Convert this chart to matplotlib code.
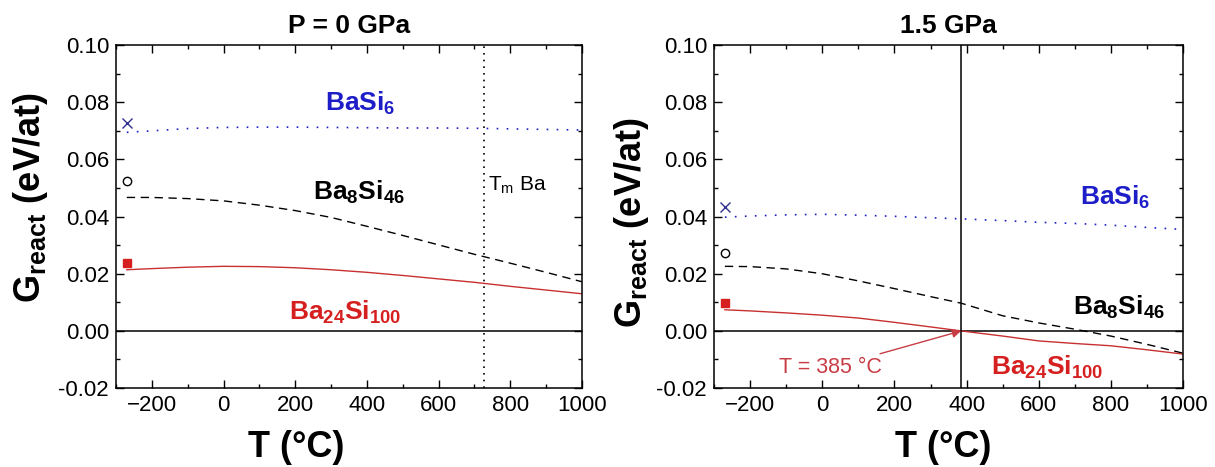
import numpy as np
import matplotlib.pyplot as plt
from matplotlib.ticker import MultipleLocator

plt.rcParams['font.family'] = ['Liberation Sans', 'DejaVu Sans']
plt.rcParams['mathtext.fontset'] = 'custom'
plt.rcParams['mathtext.rm'] = 'Liberation Sans'
plt.rcParams['mathtext.bf'] = 'Liberation Sans:bold'
plt.rcParams['mathtext.it'] = 'Liberation Sans:italic'

# P = 0 GPa
T0 = [-270, -200, -100, 0, 100, 200, 300, 400, 500, 600, 700, 800, 900, 1000]
basi6_0 = [0.0695, 0.0700, 0.0708, 0.0712, 0.0713, 0.0713, 0.0712, 0.0711, 0.0710, 0.0710, 0.0709, 0.0707, 0.0705, 0.0703]
ba8si46_0 = [0.0467, 0.0467, 0.0463, 0.0455, 0.0440, 0.0421, 0.0397, 0.0366, 0.0334, 0.0301, 0.0268, 0.0237, 0.0205, 0.0172]
ba24si100_0 = [0.0214, 0.0218, 0.0223, 0.0226, 0.0225, 0.0221, 0.0214, 0.0205, 0.0194, 0.0182, 0.0170, 0.0156, 0.0143, 0.0130]
pts0 = [0.0726, 0.0523, 0.0239]  # BaSi6, Ba8Si46, Ba24Si100 at -270 C
Tm_Ba = 727

# P = 1.5 GPa
T1 = [-270, -200, -100, 0, 100, 200, 300, 385, 500, 600, 700, 800, 900, 1000]
basi6_1 = [0.0398, 0.0402, 0.0406, 0.0408, 0.0405, 0.0401, 0.0396, 0.0392, 0.0386, 0.0380, 0.0376, 0.0370, 0.0362, 0.0355]
ba8si46_1 = [0.0226, 0.0225, 0.0217, 0.0200, 0.0175, 0.0148, 0.0120, 0.0097, 0.0053, 0.0028, 0.0006, -0.0018, -0.0047, -0.0078]
ba24si100_1 = [0.0074, 0.0070, 0.0063, 0.0055, 0.0045, 0.0030, 0.0014, 0.0000, -0.0018, -0.0035, -0.0044, -0.0052, -0.0066, -0.0081]
pts1 = [0.0432, 0.0271, 0.0096]
T_cross = 385

blue = '#1e1ec8'
red = '#d62020'
line_red = '#c83030'


def style(ax, title, xlab_x, ylab_x, ylab_y):
    ax.set_xlim(-300, 1000)
    ax.set_ylim(-0.02, 0.10)
    ax.xaxis.set_major_locator(MultipleLocator(200))
    ax.xaxis.set_minor_locator(MultipleLocator(100))
    ax.yaxis.set_major_locator(MultipleLocator(0.02))
    ax.yaxis.set_minor_locator(MultipleLocator(0.01))
    ax.yaxis.set_major_formatter(plt.FormatStrFormatter('%.2f'))
    ax.tick_params(which='both', direction='in', top=True, right=True, labelsize=16, width=1)
    ax.tick_params(which='major', length=6, pad=5)
    ax.tick_params(which='minor', length=3)
    for s in ax.spines.values():
        s.set_linewidth(1.1)
    ax.axhline(0, color='black', lw=1.1)
    ax.set_xlabel('T (°C)', fontsize=26, fontweight='bold')
    ax.xaxis.set_label_coords(xlab_x, -0.122)
    ax.set_ylabel(r'$\mathbf{G_{react}}$ (eV/at)', fontsize=26, fontweight='bold')
    ax.yaxis.set_label_coords(ylab_x, ylab_y)
    ax.set_title(title, fontsize=19, fontweight='bold', pad=9)


fig = plt.figure(figsize=(12.15, 4.67), dpi=100)
ax1 = fig.add_axes([0.0955, 0.169, 0.3835, 0.7344])
ax2 = fig.add_axes([0.5877, 0.169, 0.386, 0.7344])

# left panel
style(ax1, 'P = 0 GPa', 0.386, -0.142, 0.554)
ax1.plot(T0, basi6_0, color=blue, ls=(0, (1, 5)), lw=1.2)
ax1.plot(T0, ba8si46_0, color='black', ls=(0, (6, 4)), lw=1.0)
ax1.plot(T0, ba24si100_0, color=line_red, lw=1.0)
ax1.plot(-270, pts0[0], marker='x', color='#303090', ms=7, mew=1)
ax1.plot(-270, pts0[1], marker='o', mfc='none', mec='black', ms=6, mew=1)
ax1.plot(-270, pts0[2], marker='s', color=red, ms=6)
ax1.axvline(Tm_Ba, color='black', ls=(0, (1, 3)), lw=1.2)
ax1.text(Tm_Ba + 12, 0.051, r'T$_\mathrm{m}$ Ba', fontsize=15, va='center', ha='left')
ax1.text(380, 0.0796, r'$\mathbf{BaSi_6}$', color=blue, fontsize=19, ha='center', va='center')
ax1.text(378, 0.0485, r'$\mathbf{Ba_8Si_{46}}$', color='black', fontsize=19, ha='center', va='center')
ax1.text(340, 0.0064, r'$\mathbf{Ba_{24}Si_{100}}$', color=red, fontsize=19, ha='center', va='center')

# right panel
style(ax2, '1.5 GPa', 0.488, -0.134, 0.481)
ax2.plot(T1, basi6_1, color=blue, ls=(0, (1, 5)), lw=1.2)
ax2.plot(T1, ba8si46_1, color='black', ls=(0, (6, 4)), lw=1.0)
ax2.plot(T1, ba24si100_1, color=line_red, lw=1.0)
ax2.plot(-270, pts1[0], marker='x', color='#303090', ms=7, mew=1)
ax2.plot(-270, pts1[1], marker='o', mfc='none', mec='black', ms=6, mew=1)
ax2.plot(-270, pts1[2], marker='s', color=red, ms=6)
ax2.axvline(T_cross, color='black', lw=1.1)
ax2.text(811, 0.0467, r'$\mathbf{BaSi_6}$', color=blue, fontsize=19, ha='center', va='center')
ax2.text(821, 0.0082, r'$\mathbf{Ba_8Si_{46}}$', color='black', fontsize=19, ha='center', va='center')
ax2.text(623, -0.0128, r'$\mathbf{Ba_{24}Si_{100}}$', color=red, fontsize=19, ha='center', va='center')
ax2.annotate('T = 385 °C', xy=(T_cross, 0), xytext=(22, -0.0129), color='#c83c46', fontsize=15.5,
             ha='center', va='center',
             arrowprops=dict(arrowstyle='-|>', color='#c83c46', lw=1, shrinkA=2, shrinkB=0, mutation_scale=13))

fig.savefig('out.png', dpi=100)
